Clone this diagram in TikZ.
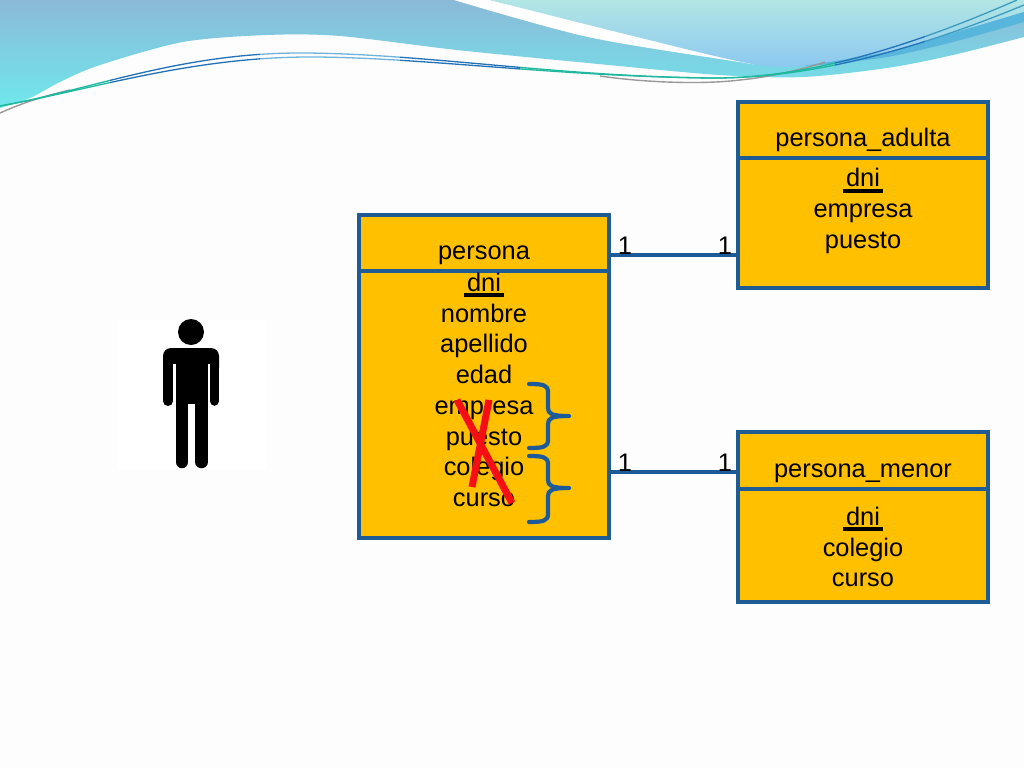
\documentclass[tikz,border=0pt]{standalone}
\usepackage{fontspec}
\setmainfont{Liberation Sans}
\definecolor{pagebg}{HTML}{FDFDFD}
\definecolor{boxfill}{HTML}{FFC000}
\definecolor{boxline}{HTML}{1F5C94}
\definecolor{relline}{HTML}{1C5A9A}
\definecolor{cross}{HTML}{F50F14}
\definecolor{waveTop}{HTML}{8BB9D8}
\definecolor{waveLow}{HTML}{6FE8EC}
\definecolor{lightTop}{HTML}{B2E6E4}
\definecolor{lightLow}{HTML}{8CC8F0}
\definecolor{bandBlue}{HTML}{58B6DC}
\definecolor{strandTeal}{HTML}{1DB89E}
\definecolor{strandBlue}{HTML}{2272B8}
\definecolor{strandPale}{HTML}{6FB4DC}
\definecolor{strandMid}{HTML}{3C9CC0}
\newcommand{\keyline}[1]{\leavevmode\setbox0\hbox{#1}\rlap{\kern-3pt\raisebox{-6pt}{\rule{\dimexpr\wd0+6pt\relax}{4pt}}}\box0}
\newcommand{\upperstrand}{(0,106) .. controls (90,90) and (180,53) .. (300,53) .. controls (420,53) and (560,77) .. (715,78) .. controls (820,78) and (930,38) .. (1017,0)}
\newcommand{\lowerstrand}{(0,106) .. controls (90,90) and (190,57) .. (310,57) .. controls (420,57) and (560,77) .. (715,78) .. controls (820,78) and (930,44) .. (1024,5)}
\tikzset{
  tablebox/.style={draw=boxline, fill=boxfill, line width=3.4pt, anchor=north west, inner sep=0pt, outer sep=0pt, minimum width=#1},
  divider/.style={draw=boxline, line width=3.2pt},
  rel/.style={draw=relline, line width=3.8pt},
  brace/.style={draw=relline, line width=4.2pt, line cap=round, line join=round},
  cut/.style={draw=cross, line width=7pt},
  label/.style={font=\fontsize{25.4}{30.75}\selectfont, text=black, inner sep=0pt, align=center}
}
\begin{document}
\begin{tikzpicture}[x=1pt,y=-1pt]
  \useasboundingbox (0,0) rectangle (1024,768);
  \fill[pagebg] (0,0) rectangle (1024,768);

  % header swooshes
  \shade[top color=waveTop, bottom color=waveLow]
    (0,0) -- (1024,0) -- (1024,37)
    -- plot[smooth] coordinates {(1024,37) (953,55) (887,68) (803,77) (719,75) (588,63) (457,50) (340,36) (267,35) (183,42) (100,65) (60,82) (30,98) (0,108)} -- cycle;
  \fill[white] plot[smooth] coordinates {(454,0) (588,37) (739,62) (752,64)} -- (490,0) -- cycle;
  \shade[top color=lightTop, bottom color=lightLow]
    plot[smooth] coordinates {(490,0) (621,33) (747,63) (803,66) (887,52) (953,33) (1024,12)} -- (1024,0) -- cycle;
  \fill[bandBlue] plot[smooth] coordinates {(803,66) (887,52) (953,33) (1024,12)}
    -- plot[smooth] coordinates {(1024,22) (953,42) (887,57) (820,65)} -- cycle;
  \draw[gray!80, line width=1.4pt] (0,113) .. controls (20,104) and (40,97) .. (70,90);
  \draw[gray!80, line width=1.4pt] (600,76) .. controls (640,82) and (700,85) .. (740,80) .. controls (770,77) and (800,70) .. (825,62);
  \foreach \xa/\xb/\strandcol in {0/110/strandTeal,110/260/strandBlue,260/400/strandPale,400/520/strandBlue,520/835/strandTeal,835/925/strandBlue,925/1024/strandMid}{
    \begin{scope}
      \clip (\xa,0) rectangle (\xb,120);
      \draw[\strandcol, line width=1.3pt] \upperstrand;
      \draw[\strandcol, line width=1.3pt] \lowerstrand;
    \end{scope}
  }

  % person picture
  \fill[white] (117,320) rectangle (267,470);
  \fill[black] (191,332) circle (13);
  \fill[black, rounded corners=8pt] (163,376) -- (163,348) -- (219,348) -- (219,376) -- cycle;
  \fill[white] (173,364) rectangle (176,380);
  \fill[white] (207,364) rectangle (210,380);
  \fill[black] (176,350) rectangle (207.5,404);
  \draw[black, line width=10pt, line cap=round] (168,370) -- (168,401);
  \draw[black, line width=9.5pt, line cap=round] (214.5,370) -- (214.5,401);
  \draw[black, line width=12.5pt, line cap=round] (182,400) -- (182,462);
  \draw[black, line width=12.5pt, line cap=round] (201.5,400) -- (201.5,462);

  % tables
  \node[tablebox=250pt, minimum height=323pt] (persona) at (359,215) {};
  \node[tablebox=250pt, minimum height=186pt] (adulta) at (738,102) {};
  \node[tablebox=250pt, minimum height=170pt] (menor) at (738,432) {};
  \coordinate (dividerPersona) at (484,271);
  \coordinate (dividerAdulta) at (863,158);
  \coordinate (dividerMenor) at (863,489);
  \draw[divider] (persona.west |- dividerPersona) -- (persona.east |- dividerPersona);
  \draw[divider] (adulta.west |- dividerAdulta) -- (adulta.east |- dividerAdulta);
  \draw[divider] (menor.west |- dividerMenor) -- (menor.east |- dividerMenor);

  % table texts
  \node[label] (personaName) at (484,255) {persona};
  \node[label] (personaAttrs) at (484,390) {\keyline{dni}\\nombre\\apellido\\edad\\empresa\\puesto\\colegio\\curso};
  \node[label] (adultaName) at (863,140) {persona\_adulta};
  \node[label] (adultaAttrs) at (863,211) {\keyline{dni}\\empresa\\puesto};
  \node[label] (menorName) at (863,473) {persona\_menor};
  \node[label] (menorAttrs) at (863,547) {\keyline{dni}\\colegio\\curso};

  % relations
  \coordinate (relUp) at (673,255);
  \coordinate (relDown) at (673,472);
  \draw[rel] (persona.east |- relUp) -- (adulta.west |- relUp);
  \draw[rel] (persona.east |- relDown) -- (menor.west |- relDown);
  \foreach \px/\py/\pname in {625/246/a,725/246/b,625/463/c,725/463/d}{
    \node[label] (one\pname) at (\px,\py) {1};
  }

  % braces and the cross
  \draw[brace] (529,384) .. controls (543,384) and (548,385) .. (548,392) -- (548,408)
    .. controls (548,414) and (552,416) .. (569,416) .. controls (552,416) and (548,418) .. (548,424)
    -- (548,440) .. controls (548,447) and (543,448) .. (529,448);
  \draw[brace] (529,456) .. controls (543,456) and (548,457) .. (548,464) -- (548,480)
    .. controls (548,486) and (552,488) .. (569,488) .. controls (552,488) and (548,490) .. (548,496)
    -- (548,514) .. controls (548,521) and (543,522) .. (529,522);
  \draw[cut] (457,400) -- (512,503);
  \draw[cut] (489,400) -- (472,487);
\end{tikzpicture}
\end{document}
